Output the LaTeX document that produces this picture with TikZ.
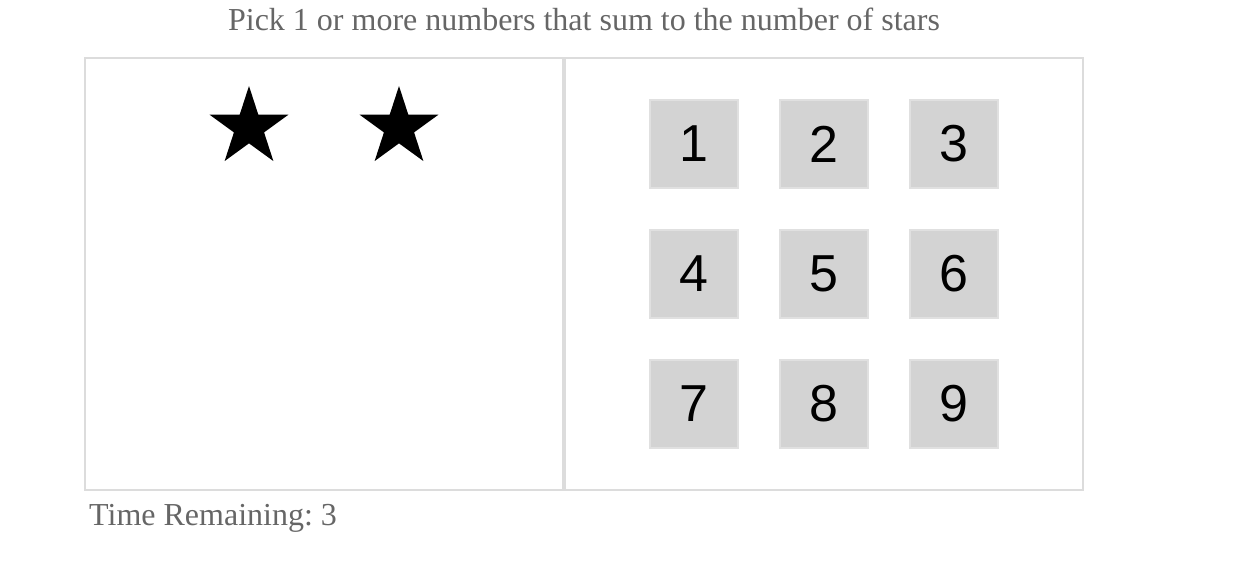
\documentclass[tikz,border=0pt]{standalone}
\usepackage{fontspec}
\setmainfont{Liberation Serif}
\newfontfamily\numfont{Liberation Sans}
\usetikzlibrary{shapes.geometric}
\definecolor{txtgray}{HTML}{666666}
\definecolor{panelline}{HTML}{DCDCDC}
\definecolor{cellfill}{HTML}{D3D3D3}
\definecolor{cellline}{HTML}{E0E0E0}
\frenchspacing
\tikzset{
  panel/.style={draw=panelline, line width=2pt},
  cell/.style={rectangle, fill=cellfill, draw=cellline, line width=2pt, minimum size=88pt, inner sep=0pt, font=\numfont\fontsize{52}{60}\selectfont, text=black},
  starmark/.style={star, star points=5, star point ratio=2.618, minimum size=83pt, inner sep=0pt, fill=black, draw=none},
  label/.style={text=txtgray, font=\fontsize{32}{38}\selectfont, inner sep=0pt}
}
\begin{document}
\begin{tikzpicture}[x=1pt,y=-1pt]
\useasboundingbox (0,0) rectangle (1246,584);
\node[label, anchor=base] (title) at (584,30) {Pick 1 or more numbers that sum to the number of stars};
\draw[panel] (85,58) rectangle (563,490);
\draw[panel] (565,58) rectangle (1083,490);
\node[starmark] (s1) at (249,127.5) {};
\node[starmark] (s2) at (399,127.5) {};
\node[cell] (c1) at (694,144) {1};
\node[cell] (c2) at (824,144) {2};
\node[cell] (c3) at (954,144) {3};
\node[cell] (c4) at (694,274) {4};
\node[cell] (c5) at (824,274) {5};
\node[cell] (c6) at (954,274) {6};
\node[cell] (c7) at (694,404) {7};
\node[cell] (c8) at (824,404) {8};
\node[cell] (c9) at (954,404) {9};
\node[label, anchor=base west] (time) at (89,525) {Time Remaining: 3};
\end{tikzpicture}
\end{document}
